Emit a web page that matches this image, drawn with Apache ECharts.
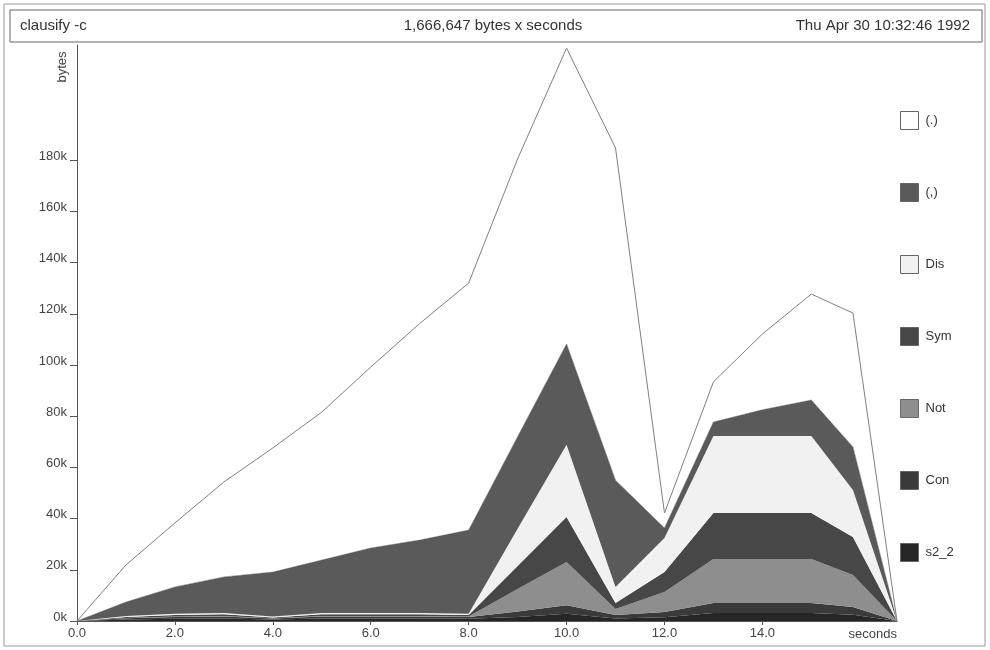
<!DOCTYPE html>
<html>
<head>
<meta charset="utf-8">
<script src="https://cdn.jsdelivr.net/npm/echarts@6/dist/echarts.min.js"></script>
<style>
  html, body { margin: 0; padding: 0; background: #fff; }
</style>
</head>
<body>
<div id="main" style="width:990px; height:650px"></div>
<script>
// sample times (seconds)
var times = [0, 1, 2, 3, 4, 5, 6, 7, 8, 9, 10, 11, 12, 13, 14, 15, 15.85, 16.75]

// bytes per band, bottom of the stack first
var s2_2 = [0, 600, 900, 1000, 600, 1000, 1000, 1000, 900, 1600, 2800, 1000, 1500, 3100, 3100, 3100, 2400, 0]
var con = [0, 500, 700, 800, 400, 800, 800, 800, 700, 2100, 3400, 1300, 2000, 3900, 3900, 3900, 3100, 0]
var not = [0, 100, 200, 200, 100, 200, 200, 200, 200, 8800, 16800, 2400, 7800, 17200, 17200, 17200, 12500, 0]
var sym = [0, 400, 500, 600, 300, 600, 600, 600, 500, 9000, 17600, 2300, 7800, 18000, 18000, 18000, 14800, 0]
var dis = [0, 400, 500, 500, 400, 500, 500, 500, 500, 14500, 28200, 6300, 13300, 30100, 30100, 30100, 18400, 0]
var pair = [0, 5400, 10500, 14100, 17300, 20700, 25400, 28500, 32700, 36000, 39400, 41700, 3900, 5400, 10200, 14000, 16800, 0]
var comp = [0, 14500, 25000, 37100, 48500, 57800, 70700, 84600, 96500, 108500, 115600, 129800, 5900, 15700, 29600, 41400, 52300, 0]

var xTicks = [0, 2, 4, 6, 8, 10, 12, 14]
var yTicks = [0, 20000, 40000, 60000, 80000, 100000, 120000, 140000, 160000, 180000]
var legendNames = ['(.)', '(,)', 'Dis', 'Sym', 'Not', 'Con', 's2_2']

var font = 'Liberation Sans, Arial, sans-serif'

// value first, time second: echarts stacks the first numeric column
function pts (vals) {
  return vals.map(function (v, i) { return [v, times[i]] })
}

function band (name, vals, color, lineColor, lineWidth) {
  return {
    name: name,
    type: 'line',
    stack: 'heap',
    data: pts(vals),
    encode: { x: 1, y: 0 },
    showSymbol: false,
    symbol: 'none',
    color: color,
    lineStyle: { color: lineColor, width: lineWidth },
    areaStyle: { color: color, opacity: 1 },
    emphasis: { disabled: true }
  }
}

var chart = echarts.init(document.getElementById('main'))
var option = {
  animation: false,
  backgroundColor: '#fff',
  grid: { left: 77, right: 93, top: 45, bottom: 29 },
  legend: {
    data: legendNames,
    orient: 'vertical',
    left: 900,
    top: 111,
    padding: 0,
    icon: 'rect',
    itemWidth: 18,
    itemHeight: 18,
    itemGap: 53,
    selectedMode: false,
    itemStyle: { borderColor: '#666', borderWidth: 1 },
    textStyle: { fontFamily: font, fontSize: 13, color: '#333', padding: [0, 0, 0, 2] }
  },
  xAxis: {
    type: 'value',
    min: 0,
    max: 16.75,
    splitLine: { show: false },
    axisLine: { onZero: false, lineStyle: { color: '#555', width: 1 } },
    axisTick: { customValues: xTicks, length: 4, lineStyle: { color: '#555' } },
    axisLabel: {
      customValues: xTicks,
      margin: 6,
      fontFamily: font,
      fontSize: 13,
      color: '#444',
      formatter: function (v) { return v.toFixed(1) }
    }
  },
  yAxis: {
    type: 'value',
    min: 0,
    max: 225000,
    splitLine: { show: false },
    axisLine: { show: true, lineStyle: { color: '#555', width: 1 } },
    axisTick: { show: true, customValues: yTicks, length: 7, lineStyle: { color: '#555' } },
    axisLabel: {
      customValues: yTicks,
      margin: 10,
      verticalAlign: 'bottom',
      lineHeight: 8,
      fontFamily: font,
      fontSize: 13,
      color: '#444',
      formatter: function (v) { return (v / 1000) + 'k' }
    }
  },
  series: [
    band('s2_2', s2_2, '#262626', '#262626', 0),
    band('Con', con, '#3a3a3a', '#3a3a3a', 0),
    band('Not', not, '#8e8e8e', '#8e8e8e', 0),
    band('Sym', sym, '#474747', '#474747', 0),
    band('Dis', dis, '#f1f1f1', '#f1f1f1', 0),
    band('(,)', pair, '#5a5a5a', '#505050', 0.5),
    band('(.)', comp, '#ffffff', '#808080', 1)
  ],
  graphic: [
    {
      type: 'rect',
      shape: { x: 4, y: 4, width: 981, height: 642 },
      style: { fill: 'none', stroke: '#999', lineWidth: 1 },
      silent: true
    },
    {
      type: 'rect',
      shape: { x: 10, y: 10, width: 972, height: 32 },
      style: { fill: 'none', stroke: '#666', lineWidth: 1 },
      silent: true
    },
    {
      type: 'text', left: 20, top: 18,
      style: { text: 'clausify -c', font: '15px ' + font, fill: '#333' }
    },
    {
      type: 'text', x: 493, y: 26,
      style: { text: '1,666,647 bytes x seconds', font: '15px ' + font, fill: '#333', textAlign: 'center', textVerticalAlign: 'middle' }
    },
    {
      type: 'text', x: 970, y: 26,
      style: { text: 'Thu Apr 30 10:32:46 1992', font: '15px ' + font, fill: '#333', textAlign: 'right', textVerticalAlign: 'middle' }
    },
    {
      type: 'text', x: 62, y: 67, rotation: Math.PI / 2,
      style: { text: 'bytes', font: '13px ' + font, fill: '#444', textAlign: 'center', textVerticalAlign: 'middle' }
    },
    {
      type: 'text', x: 897, y: 634,
      style: { text: 'seconds', font: '13px ' + font, fill: '#444', textAlign: 'right', textVerticalAlign: 'middle' }
    }
  ]
}
chart.setOption(option)
</script>
</body>
</html>
